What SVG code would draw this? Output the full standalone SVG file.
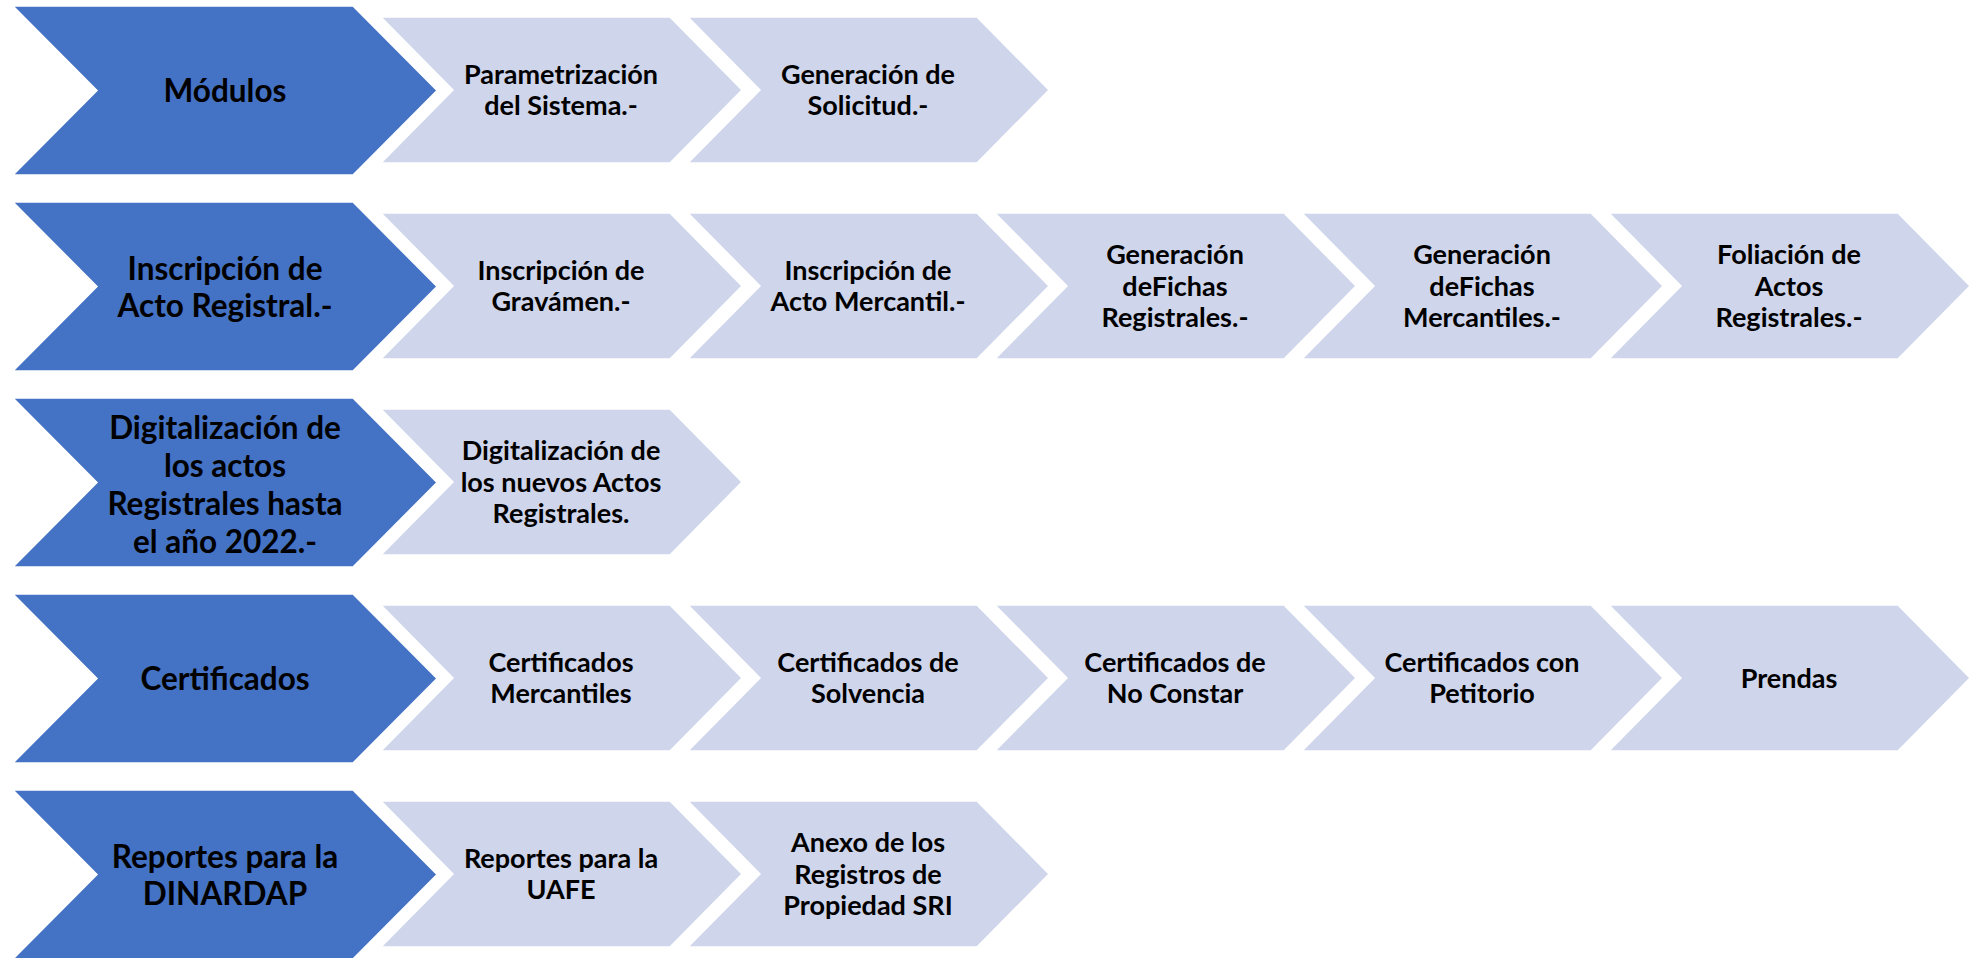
<svg xmlns="http://www.w3.org/2000/svg" width="1980" height="958" viewBox="0 0 1980 958">
<style>
.main{fill:#4472C4;stroke:#ffffff;stroke-width:1.5}
.sub{fill:#CFD5EA;stroke:#ffffff;stroke-width:1.5}
.tm{font-family:Lato,"Liberation Sans",sans-serif;font-weight:bold;font-size:31.5px;fill:#000;text-anchor:middle}
.ts{font-family:Lato,"Liberation Sans",sans-serif;font-weight:bold;font-size:27px;fill:#000;text-anchor:middle}
</style>
<rect width="1980" height="958" fill="#ffffff"/>
<defs>
<polygon id="bigChev" points="0,0 340,0 424,84.5 340,169 0,169 84,84.5"/>
<polygon id="smallChev" points="0,0 289,0 361,73 289,146 0,146 72,73"/>
</defs>

<!-- Row 1 -->
<g id="modulos">
<use href="#bigChev" x="13" y="6" class="main"/>
<text class="tm"><tspan x="225" y="102">Módulos</tspan></text>
</g>
<g id="parametrizacion">
<use href="#smallChev" x="381" y="17" class="sub"/>
<text class="ts"><tspan x="561" y="83.5">Parametrización</tspan><tspan x="561" y="115">del Sistema.-</tspan></text>
</g>
<g id="generacion-solicitud">
<use href="#smallChev" x="688" y="17" class="sub"/>
<text class="ts"><tspan x="868" y="83.5">Generación de</tspan><tspan x="868" y="115">Solicitud.-</tspan></text>
</g>

<!-- Row 2 -->
<g id="inscripcion-acto">
<use href="#bigChev" x="13" y="202" class="main"/>
<text class="tm"><tspan x="225" y="279.5">Inscripción de</tspan><tspan x="225" y="316.5">Acto Registral.-</tspan></text>
</g>
<g id="inscripcion-gravamen">
<use href="#smallChev" x="381" y="213" class="sub"/>
<text class="ts"><tspan x="561" y="279.5">Inscripción de</tspan><tspan x="561" y="311">Gravámen.-</tspan></text>
</g>
<g id="inscripcion-mercantil">
<use href="#smallChev" x="688" y="213" class="sub"/>
<text class="ts"><tspan x="868" y="279.5">Inscripción de</tspan><tspan x="868" y="311">Acto Mercantil.-</tspan></text>
</g>
<g id="fichas-registrales">
<use href="#smallChev" x="995" y="213" class="sub"/>
<text class="ts"><tspan x="1175" y="264">Generación</tspan><tspan x="1175" y="295.5">deFichas</tspan><tspan x="1175" y="327">Registrales.-</tspan></text>
</g>
<g id="fichas-mercantiles">
<use href="#smallChev" x="1302" y="213" class="sub"/>
<text class="ts"><tspan x="1482" y="264">Generación</tspan><tspan x="1482" y="295.5">deFichas</tspan><tspan x="1482" y="327">Mercantiles.-</tspan></text>
</g>
<g id="foliacion">
<use href="#smallChev" x="1609" y="213" class="sub"/>
<text class="ts"><tspan x="1789" y="264">Foliación de</tspan><tspan x="1789" y="295.5">Actos</tspan><tspan x="1789" y="327">Registrales.-</tspan></text>
</g>

<!-- Row 3 -->
<g id="digitalizacion">
<use href="#bigChev" x="13" y="398" class="main"/>
<text class="tm"><tspan x="225" y="438.5">Digitalización de</tspan><tspan x="225" y="476.5">los actos</tspan><tspan x="225" y="514.5">Registrales hasta</tspan><tspan x="225" y="552.5">el año 2022.-</tspan></text>
</g>
<g id="digitalizacion-nuevos">
<use href="#smallChev" x="381" y="409" class="sub"/>
<text class="ts"><tspan x="561" y="460">Digitalización de</tspan><tspan x="561" y="491.5">los nuevos Actos</tspan><tspan x="561" y="523">Registrales.</tspan></text>
</g>

<!-- Row 4 -->
<g id="certificados">
<use href="#bigChev" x="13" y="594" class="main"/>
<text class="tm"><tspan x="225" y="690">Certificados</tspan></text>
</g>
<g id="cert-mercantiles">
<use href="#smallChev" x="381" y="605" class="sub"/>
<text class="ts"><tspan x="561" y="671.5">Certificados</tspan><tspan x="561" y="703">Mercantiles</tspan></text>
</g>
<g id="cert-solvencia">
<use href="#smallChev" x="688" y="605" class="sub"/>
<text class="ts"><tspan x="868" y="671.5">Certificados de</tspan><tspan x="868" y="703">Solvencia</tspan></text>
</g>
<g id="cert-no-constar">
<use href="#smallChev" x="995" y="605" class="sub"/>
<text class="ts"><tspan x="1175" y="671.5">Certificados de</tspan><tspan x="1175" y="703">No Constar</tspan></text>
</g>
<g id="cert-petitorio">
<use href="#smallChev" x="1302" y="605" class="sub"/>
<text class="ts"><tspan x="1482" y="671.5">Certificados con</tspan><tspan x="1482" y="703">Petitorio</tspan></text>
</g>
<g id="prendas">
<use href="#smallChev" x="1609" y="605" class="sub"/>
<text class="ts"><tspan x="1789" y="687.5">Prendas</tspan></text>
</g>

<!-- Row 5 -->
<g id="reportes-dinardap">
<use href="#bigChev" x="13" y="790" class="main"/>
<text class="tm"><tspan x="225" y="867.5">Reportes para la</tspan><tspan x="225" y="904.5">DINARDAP</tspan></text>
</g>
<g id="reportes-uafe">
<use href="#smallChev" x="381" y="801" class="sub"/>
<text class="ts"><tspan x="561" y="867.5">Reportes para la</tspan><tspan x="561" y="899">UAFE</tspan></text>
</g>
<g id="anexo-sri">
<use href="#smallChev" x="688" y="801" class="sub"/>
<text class="ts"><tspan x="868" y="852">Anexo de los</tspan><tspan x="868" y="883.5">Registros de</tspan><tspan x="868" y="915">Propiedad SRI</tspan></text>
</g>
</svg>
